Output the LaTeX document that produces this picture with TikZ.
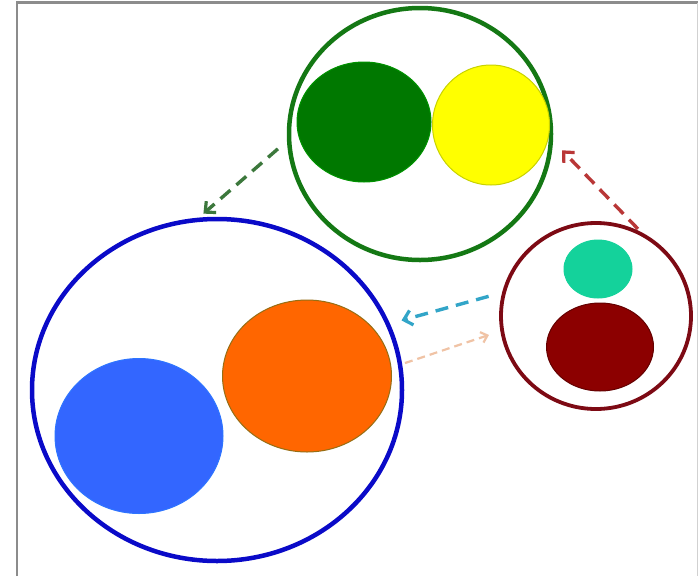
\documentclass[tikz,border=0pt]{standalone}
\usetikzlibrary{shapes.geometric,arrows.meta}
\definecolor{gring}{RGB}{20,120,20}
\definecolor{gfill}{RGB}{0,120,0}
\definecolor{yfill}{RGB}{255,255,0}
\definecolor{yline}{RGB}{200,210,0}
\definecolor{bring}{RGB}{10,10,200}
\definecolor{ofill}{RGB}{255,102,0}
\definecolor{oline}{RGB}{150,110,20}
\definecolor{bfill}{RGB}{51,102,255}
\definecolor{rring}{RGB}{125,10,20}
\definecolor{tfill}{RGB}{20,210,155}
\definecolor{mfill}{RGB}{140,0,0}
\definecolor{mline}{RGB}{100,0,0}
\definecolor{garrow}{RGB}{60,120,60}
\definecolor{rarrow}{RGB}{185,55,55}
\definecolor{barrow}{RGB}{50,165,200}
\definecolor{parrow}{RGB}{240,195,165}
\definecolor{framec}{RGB}{140,140,140}
\tikzset{
  ring/.style={ellipse, draw, line width=4.5pt, inner sep=0pt},
  blob/.style={ellipse, line width=1pt, inner sep=0pt, draw},
  flow/.style={line width=3.4pt, dash pattern=on 13pt off 8pt,
    -{Straight Barb[length=8pt,width=15pt,line width=3.2pt]}},
}
\begin{document}
\begin{tikzpicture}[x=1pt,y=-1pt]
\useasboundingbox (0,0) rectangle (698,576);
\fill[white] (0,0) rectangle (698,576);
% frame
\draw[framec, line width=2.5pt] (17,576) -- (17,2.5) -- (698,2.5);
\draw[framec!40, line width=1pt] (697,2.5) -- (697,576);
% rings
\node[ring, draw=gring, minimum width=262pt, minimum height=252pt] (G) at (420,134) {};
\node[ring, draw=bring, minimum width=370pt, minimum height=342pt] (B) at (217,390) {};
\node[ring, draw=rring, line width=3.8pt, minimum width=190pt, minimum height=186pt] (R) at (596,316) {};
% blobs
\node[blob, fill=gfill, draw=gfill!80!green, minimum width=134pt, minimum height=120pt] (dg) at (364,122) {};
\node[blob, fill=yfill, draw=yline, minimum width=117pt, minimum height=120pt] (ye) at (491,125) {};
\node[blob, fill=ofill, draw=oline, minimum width=169pt, minimum height=152pt] (or) at (307,376) {};
\node[blob, fill=bfill, draw=bfill!90!cyan, minimum width=168pt, minimum height=155pt] (bl) at (139,436) {};
\node[blob, fill=tfill, draw=tfill, minimum width=68pt, minimum height=58pt] (te) at (598,269) {};
\node[blob, fill=mfill, draw=mline, minimum width=107pt, minimum height=88pt] (ma) at (600,347) {};
% arrows
\draw[flow, draw=garrow, shorten <=12pt, shorten >=6pt] (G.183) -- (B.96);
\draw[flow, draw=rarrow, shorten <=4pt, shorten >=13pt] (R.62) -- (G.-3);
\draw[flow, draw=barrow, shorten <=14pt, shorten >=12pt] (R.166) -- (B.21);
\draw[flow, draw=parrow, line width=2.2pt, dash pattern=on 8pt off 5pt,
  -{Straight Barb[length=6pt,width=11pt,line width=2.2pt]},
  shorten <=3pt, shorten >=12pt] (B.8) -- (R.189);
\end{tikzpicture}
\end{document}
